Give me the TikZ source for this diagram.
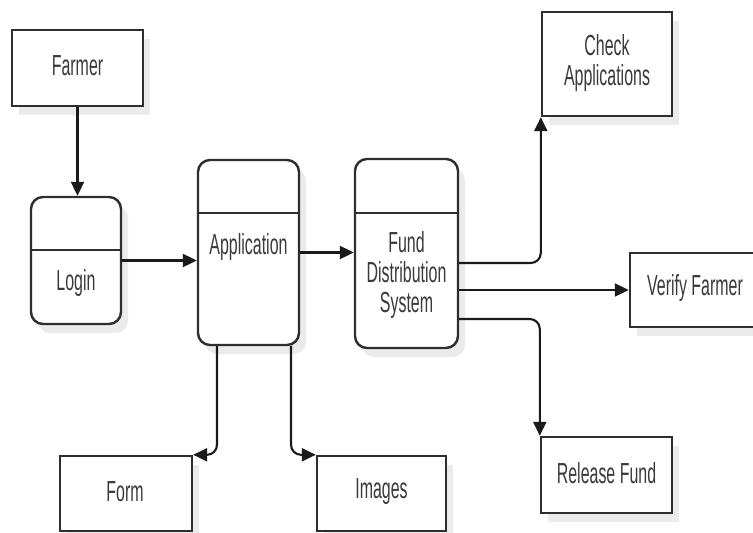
\documentclass[tikz,border=0pt]{standalone}
\usepackage{fontspec}
\newfontfamily\diagfont{Liberation Sans}[FakeStretch=0.55]
\usetikzlibrary{arrows.meta,shadows}
\definecolor{boxline}{HTML}{2E2E2E}
\definecolor{arrline}{HTML}{1A1A1A}
\definecolor{txt}{HTML}{3A3A3A}
\tikzset{
  every node/.style={font=\diagfont\fontsize{29}{30}\selectfont, text=txt},
  sqbox/.style={draw=boxline, line width=2.4pt, fill=white, inner sep=0pt,
    drop shadow={shadow xshift=7pt, shadow yshift=-9pt, opacity=0.08, fill=black}},
  rbox/.style={sqbox, rounded corners=12pt},
  lbl/.style={align=center, inner sep=0pt},
  divider/.style={draw=boxline, line width=2.4pt},
  arr/.style={draw=arrline, line width=2.1pt, -{Triangle[length=14pt,width=13pt]}},
}
\begin{document}
\begin{tikzpicture}[x=1pt,y=-1pt]
\fill[white] (0,0) rectangle (753,533);
\useasboundingbox (0,0) rectangle (753,533);

% boxes
\node[sqbox, minimum width=131pt, minimum height=76pt] (farmer) at (77.5,68) {};
\node[lbl] (farmertxt) at (77.5,66) {Farmer};

\node[rbox, minimum width=90pt, minimum height=127pt] (login) at (76,260.5) {};
\draw[divider] (login.west |- 0,250) -- (login.east |- 0,250);
\node[lbl] (logintxt) at (76,283) {Login};

\node[rbox, minimum width=101pt, minimum height=185pt] (app) at (248.5,252.5) {};
\draw[divider] (app.west |- 0,213) -- (app.east |- 0,213);
\node[lbl] (apptxt) at (248.5,247) {Application};

\node[rbox, minimum width=103pt, minimum height=189pt] (fund) at (406.5,253.5) {};
\draw[divider] (fund.west |- 0,213) -- (fund.east |- 0,213);
\node[lbl] (fundtxt) at (406.5,275) {Fund\\Distribution\\System};

\node[sqbox, minimum width=130pt, minimum height=104pt] (check) at (607,64) {};
\node[lbl] (checktxt) at (607,63) {Check\\Applications};

\node[sqbox, minimum width=135pt, minimum height=74pt] (verify) at (697.5,290) {};
\node[lbl] (verifytxt) at (695,288) {Verify Farmer};

\node[sqbox, minimum width=132pt, minimum height=75pt] (form) at (126,493.5) {};
\node[lbl] (formtxt) at (125,492) {Form};

\node[sqbox, minimum width=129pt, minimum height=75pt] (images) at (381.5,493.5) {};
\node[lbl] (imagestxt) at (381.5,492) {Images};

\node[sqbox, minimum width=131pt, minimum height=76pt] (release) at (606.5,475) {};
\node[lbl] (releasetxt) at (606.5,473) {Release Fund};

% connectors
\draw[arr] (farmer.south) -- (farmer.south |- login.north);
\draw[arr] (login.east) -- (login.east -| app.west);
\draw[arr] (app.east) -- (app.east -| fund.west);
\draw[arr, rounded corners=10pt] ([yshift=-9.5pt]fund.east) -| (check.south west);
\draw[arr] (verify.west -| fund.east) -- (verify.west);
\draw[arr, rounded corners=10pt] ([yshift=-65.5pt]fund.east) -| (release.north west);
\draw[arr, rounded corners=10pt] ([xshift=-31.5pt]app.south) |- (form.north east);
\draw[arr, rounded corners=10pt] ([xshift=42.5pt]app.south) |- (images.north west);
\end{tikzpicture}
\end{document}
